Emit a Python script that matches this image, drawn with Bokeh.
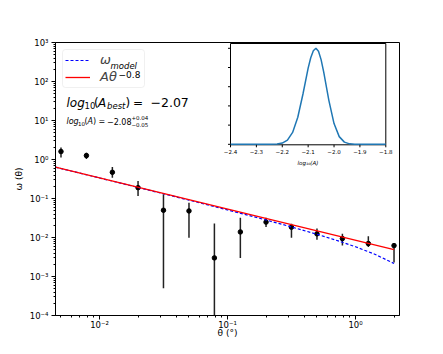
from bokeh.plotting import figure
from bokeh.models import (Range1d, LinearScale, FixedTicker, CustomJSTickFormatter,
                          Label, Legend, LegendItem, ColumnDataSource, BoxAnnotation)
from bokeh.core.properties import value
from bokeh.embed import file_html
from bokeh.resources import INLINE

# ---------------- data ----------------
theta = [0.005, 0.0079, 0.0126, 0.02, 0.0316, 0.05, 0.079, 0.126, 0.2, 0.316, 0.5, 0.79, 1.26, 2.0]
omega = [1.6, 1.26, 0.47, 0.19, 0.050, 0.048, 0.0030, 0.0139, 0.0248, 0.0184, 0.0124, 0.0094, 0.0070, 0.0062]
omega_lo = [1.12, 1.03, 0.342, 0.116, 0.0005, 0.0098, 1e-6, 0.0030, 0.0187, 0.0098, 0.0087, 0.0062, 0.0057, 0.0023]
omega_hi = [2.02, 1.48, 0.646, 0.28, 0.129, 0.0776, 0.0229, 0.0319, 0.0319, 0.0224, 0.0170, 0.0124, 0.0108, 0.0070]

model_theta = [0.00453, 0.01, 0.02, 0.05, 0.1, 0.2, 0.3, 0.5, 0.7, 1.0, 1.4, 2.0]
model_omega = [0.6355, 0.3361, 0.1919, 0.0908, 0.0510, 0.02812, 0.01957, 0.01209, 0.00860, 0.00579, 0.00378, 0.00216]

power_theta = [0.00453, 2.0]
power_omega = [0.638, 0.00489]

post_logA = [-2.40, -2.30, -2.25, -2.22, -2.20, -2.18, -2.16, -2.14, -2.12, -2.10, -2.09, -2.08,
             -2.07, -2.06, -2.05, -2.04, -2.02, -2.00, -1.98, -1.96, -1.94, -1.92, -1.90, -1.80]
post_prob = [0.0, 0.0, 0.0002, 0.003, 0.0128, 0.044, 0.124, 0.282, 0.524, 0.793, 0.902, 0.975,
             1.0, 0.969, 0.882, 0.755, 0.458, 0.216, 0.080, 0.023, 0.005, 0.0009, 0.0, 0.0]

x_major = [0.01, 0.1, 1.0]
y_major = [1e-4, 1e-3, 1e-2, 1e-1, 1e0, 1e1, 1e2, 1e3]
inset_xticks = [-2.4, -2.3, -2.2, -2.1, -2.0, -1.9, -1.8]
inset_xlabels = ["\u22122.4", "\u22122.3", "\u22122.2", "\u22122.1", "\u22122.0", "\u22121.9", "\u22121.8"]
inset_yticks = [0.0, 0.2, 0.4, 0.6, 0.8, 1.0]

# ---------------- layout ----------------
FW, FH = 344, 273
ML, MT = 55, 42
MR, MB = 443 - ML - FW, 354 - MT - FH
PX0, PY0 = ML, MT  # page position of frame's top-left corner

p = figure(width=ML + FW + MR, height=MT + FH + MB,
           x_axis_type="log", y_axis_type="log",
           x_range=Range1d(0.00453, 2.207), y_range=Range1d(1e-4, 1e3),
           output_backend="svg", toolbar_location=None,
           min_border_left=ML, min_border_right=MR, min_border_top=MT, min_border_bottom=MB)
p.xgrid.grid_line_color = None
p.ygrid.grid_line_color = None
p.outline_line_color = "black"
p.outline_line_width = 1
p.background_fill_color = "white"
p.border_fill_color = "white"

fmt = CustomJSTickFormatter(code="""
const sup = {"-":"\u207b","0":"\u2070","1":"\u00b9","2":"\u00b2","3":"\u00b3","4":"\u2074",
             "5":"\u2075","6":"\u2076","7":"\u2077","8":"\u2078","9":"\u2079"};
const e = Math.round(Math.log10(tick));
return "10" + String(e).split("").map(c => sup[c]).join("");
""")
xminor = [k * 10.0 ** d for d in range(-3, 1) for k in range(2, 10)]
yminor = [k * 10.0 ** d for d in range(-4, 3) for k in range(2, 10)]
p.xaxis.ticker = FixedTicker(ticks=x_major, minor_ticks=xminor)
p.yaxis.ticker = FixedTicker(ticks=y_major, minor_ticks=yminor)
for ax in (p.xaxis, p.yaxis):
    ax.formatter = fmt
    ax.major_label_text_font = "DejaVu Sans"
    ax.major_label_text_font_size = "8.5px"
    ax.major_label_text_color = "black"
    ax.major_tick_in = 0
    ax.major_tick_out = 4
    ax.minor_tick_in = 0
    ax.minor_tick_out = 2
    ax.major_tick_line_color = "black"
    ax.minor_tick_line_color = "black"
    ax.axis_line_color = "black"
    ax.major_label_standoff = 3
    ax.axis_label_text_font = "DejaVu Sans"
    ax.axis_label_text_font_size = "9px"
    ax.axis_label_text_font_style = "normal"
    ax.axis_label_text_color = "black"
p.xaxis.major_label_standoff = 0
p.xaxis.axis_label = "\u03b8 (\u00b0)"
p.yaxis.axis_label = "\u03c9 (\u03b8)"
p.xaxis.axis_label_standoff = -5
p.yaxis.axis_label_standoff = 3

# ---------------- main data ----------------
p.segment(x0=theta, y0=omega_lo, x1=theta, y1=omega_hi, line_color="#222222", line_width=1.5)
p.scatter(theta, omega, size=4.5, color="black")
blue_r = p.line(model_theta, model_omega, line_color="blue", line_dash="3 2", line_width=1.2)
red_r = p.line(power_theta, power_omega, line_color="red", line_width=1.3)

# ---------------- inset (own linear ranges) ----------------
IL, IR, IT, IB = 175, 330.3, 1.0, 102.3
X0, X1, Y0, Y1 = -2.4, -1.8, -0.005, 1.05
sx = (X1 - X0) / (IR - IL)
sy = (Y1 - Y0) / (IB - IT)
p.extra_x_ranges = {"inset": Range1d(X0 - IL * sx, X1 + (FW - IR) * sx), "px": Range1d(0, FW)}
p.extra_y_ranges = {"inset": Range1d(Y0 - (FH - IB) * sy, Y1 + IT * sy), "px": Range1d(FH, 0)}
p.extra_x_scales = {"inset": LinearScale(), "px": LinearScale()}
p.extra_y_scales = {"inset": LinearScale(), "px": LinearScale()}

kw = dict(x_range_name="inset", y_range_name="inset")
p.quad(left=[X0], right=[X1], bottom=[Y0], top=[Y1], fill_color="white",
       line_color="black", line_width=1, **kw)
p.line(post_logA, post_prob, line_color="#1f77b4", line_width=1.5, **kw)
p.segment(x0=inset_xticks, y0=[Y0] * len(inset_xticks), x1=inset_xticks,
          y1=[Y0 - 2.5 * sy] * len(inset_xticks), line_color="black", **kw)
p.segment(x0=[X0] * len(inset_yticks), y0=inset_yticks, x1=[X0 - 2.5 * sx] * len(inset_yticks),
          y1=inset_yticks, line_color="black", **kw)
tick_src = ColumnDataSource(dict(x=inset_xticks, y=[Y0 - 4 * sy] * len(inset_xticks), t=inset_xlabels))
p.text(x="x", y="y", text="t", source=tick_src, text_font=value("DejaVu Sans"),
       text_font_size="5.5px", text_align="center", text_baseline="top", text_color="black", **kw)

# ---------------- legend ----------------
p.add_layout(BoxAnnotation(left=7, right=89, top=7, bottom=45, x_range_name="px", y_range_name="px",
                           fill_color="white", fill_alpha=0.8, line_color="#cccccc",
                           line_width=1, border_radius=3, level="underlay"))
legend = Legend(items=[LegendItem(label="\u03c9", renderers=[blue_r]),
                       LegendItem(label="A\u03b8", renderers=[red_r])],
                location=(7, FH - 45), margin=0, padding=3, spacing=2,
                glyph_width=25, glyph_height=14, label_height=14, label_width=41,
                label_standoff=10, label_text_font="DejaVu Sans", label_text_font_size="13px",
                label_text_font_style="italic", border_line_alpha=0,
                background_fill_alpha=0)
p.add_layout(legend)


def txt(s, x, y, size, italic=False, align="left"):
    p.add_layout(Label(x=x - PX0, y=y - PY0, text=s, x_range_name="px", y_range_name="px",
                       text_font="DejaVu Sans", text_font_size=f"{size}px",
                       text_font_style="italic" if italic else "normal",
                       text_baseline="alphabetic", text_align=align, text_color="black",
                       level="overlay"))


txt("model", 110, 65, 8.5, True)
txt("\u22120.8", 118, 74, 9)

# log10(A_best) = -2.07
txt("log", 66, 102, 12, True)
txt("10", 84, 105, 8.5)
txt("(", 93.5, 102, 12)
txt("A", 97.5, 102, 12, True)
txt("best", 106.5, 105, 8.5, True)
txt(")", 125, 102, 12)
txt("=", 132.5, 102, 12)
txt("\u22122.07", 150, 102, 12.5)

# log10(A) = -2.08 +0.04 -0.05
txt("log", 66, 121, 8, True)
txt("10", 77.5, 123, 5.5)
txt("(", 84, 121, 8)
txt("A", 87, 121, 8, True)
txt(")", 92.5, 121, 8)
txt("=", 98, 121, 8)
txt("\u22122.08", 106.5, 121, 8)
txt("+0.04", 131, 117, 5.5)
txt("\u22120.05", 131, 123.5, 5.5)

# inset x label
txt("log\u2081\u2080(A)", 307.5, 162, 5.5, True, "center")

open("out.html", "w").write(file_html(p, INLINE))
